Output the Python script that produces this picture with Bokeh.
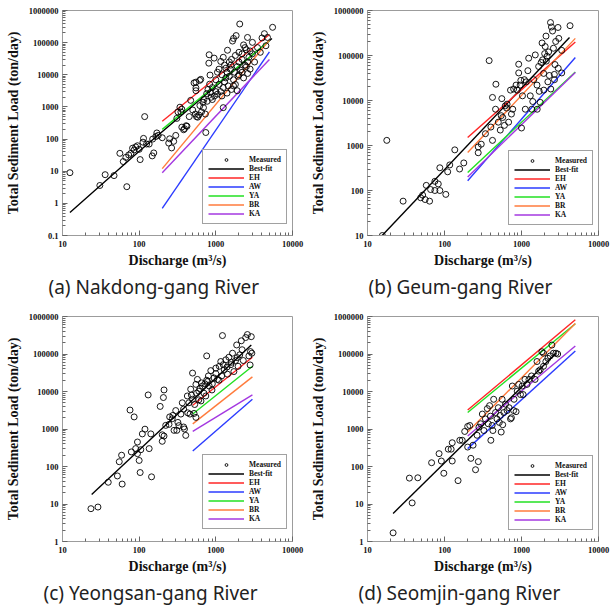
from bokeh.plotting import figure
from bokeh.layouts import column, row
from bokeh.models import (Legend, LegendItem, Title, FixedTicker, Range1d,
                          CustomJSTickFormatter)
from bokeh.embed import file_html
from bokeh.resources import INLINE

# ---------------- data ----------------
x_ticks = [10, 100, 1000, 10000]
model_names = ["EH", "AW", "YA", "BR", "KA"]
model_colors = ["#ff2626", "#2b3bff", "#22e022", "#ff7b3c", "#a438e0"]

# (a) Nakdong-gang River
nak_q = [12.5, 30.7, 36, 47, 56, 62, 69, 67, 73, 78, 82, 86, 90, 95, 100, 103, 114, 118, 112, 125,
         135, 148, 155, 150, 165, 170, 177, 200,
         243, 250, 265, 282, 300, 310, 320, 340, 350, 360, 360, 380, 410, 420, 390, 450, 470, 500,
         520, 540, 550, 550, 550, 560, 580, 600, 615, 620, 636, 650, 680, 690, 700, 730, 740, 770,
         790, 760,
         810, 818, 830, 840, 850, 870, 900, 900, 950, 960, 1000, 1000, 1050, 1050, 1100, 1100, 1150,
         1160, 1200, 1200, 1250, 1250, 1250, 1300, 1300, 1350, 1350, 1400, 1400, 1420, 1450, 1500,
         1500, 1550, 1570, 1600, 1600, 1650, 1700, 1700, 1700, 1750, 1800, 1800, 1840, 1900, 1900,
         1950, 2000, 2000, 2000, 2050, 2100, 2200, 2200, 2200, 2300, 2300, 2400, 2400, 2500, 2500,
         2590, 2600, 2600, 2700, 2800, 2800, 3000, 3000, 3200, 3500, 3800, 4000, 4300, 4500, 4720,
         5500]
nak_qs = [9, 3.6, 7.8, 7.3, 36, 20, 3.3, 27, 32, 36, 52, 46, 57, 62, 48, 23, 105, 500, 80, 70,
          70, 30, 37, 100, 120, 155, 130, 110,
          75, 102, 53, 85, 130, 440, 700, 980, 700, 850, 235, 195, 260, 250, 210, 500, 1600, 800,
          5600, 600, 5900, 3900, 3200, 500, 480, 560, 6700, 1100, 7200, 700, 1400, 950, 1700, 600,
          160, 1500, 3500, 2600,
          23000, 42000, 5100, 9800, 2800, 2000, 4000, 1700, 33000, 2200, 3000, 7000, 2500, 12000,
          5000, 15000, 3000, 26000, 2200, 10000, 35000, 950, 4000, 6000, 20000, 8000, 16000, 12000,
          2700, 58000, 4500, 9000, 25000, 15000, 20000, 3500, 30000, 112000, 135000, 7000, 4500,
          12000, 5000, 40000, 166000, 18000, 3200, 9000, 25000, 50000, 10000, 380000, 14000, 30000,
          45000, 12000, 85000, 8000, 20000, 70000, 60000, 18000, 145000, 11000, 25000, 35000, 15000,
          55000, 102000, 45000, 25000, 70000, 50000, 140000, 190000, 80000, 145000, 300000]
nak_fit_q = [12.5, 100, 5400]
nak_fit_qs = [0.52, 42, 135000]
nak_model_q = [200, 5000]
nak_models = [[360, 180000], [0.7, 52000], [200, 115000], [12, 120000], [9, 30000]]

# (b) Geum-gang River
geum_q = [15.6, 17.8, 29, 49, 52, 56, 58, 64, 66, 75, 75, 83, 87, 87, 104, 110, 117, 136, 157, 178,
          274, 274, 300, 340, 380, 400, 420, 420, 460, 465, 500, 530, 545, 555, 600, 615, 650, 680,
          740, 770, 790, 850, 920, 920, 960, 1000, 1030, 1090, 1120, 1210, 1240, 1300, 1360, 1440,
          1510, 1590, 1600, 1670, 1750, 1850, 1880, 1940, 2000, 2030, 2080, 2150, 2200, 2300, 2380,
          2450, 2530, 2600, 2670, 2680, 2720, 2780, 2980, 3050, 3330, 3330, 4270,
          570, 640, 720, 880, 980, 1150, 1400, 1700, 1800, 2100, 2250, 1950, 2400, 3000]
geum_qs = [10, 1300, 58, 69, 79, 63, 130, 58, 105, 160, 100, 140, 100, 320, 82, 260, 370, 800, 300,
           410, 690, 930, 1070, 1830, 77000, 2570, 11700, 1300, 6400, 23000, 3300, 2200, 4600, 11000,
           2800, 7600, 8300, 3300, 5000, 6400, 18000, 22000, 41000, 64000, 22000, 2450, 12700, 29000,
           6400, 46000, 87000, 12700, 6400, 29000, 103000, 22000, 6400, 57000, 9100, 190000, 80000,
           40000, 110000, 158000, 270000, 96000, 26000, 36000, 540000, 430000, 350000, 145000, 38000,
           29000, 63000, 205000, 420000, 240000, 130000, 41000, 460000,
           4200, 6800, 17000, 17000, 28000, 26000, 9500, 16000, 70000, 75000, 120000, 17000, 18000,
           52000]
geum_fit_q = [15.5, 4200]
geum_fit_qs = [10, 250000]
geum_model_q = [200, 5000]
geum_models = [[1500, 200000], [165, 90000], [250, 43000], [700, 240000], [200, 42000]]

# (c) Yeongsan-gang River
yeong_q = [23.5, 29, 39.5, 52, 55, 59, 60, 76, 79, 86, 90, 95, 95, 100, 103, 105, 110, 119, 131, 135,
           142, 145, 188, 200, 200, 207, 211, 211, 222, 245, 270, 275, 285, 300, 310, 330, 350, 365,
           380, 380, 390, 405, 425, 445, 460, 470, 497, 497, 520, 550, 550, 575, 600, 640, 670, 720,
           740, 760, 780, 820, 860, 890, 950, 1000, 1050, 1110, 1160, 1190, 1220, 1290, 1350, 1420,
           1480, 1570, 1650, 1720, 1810, 1870, 1950, 2050, 2150, 2280, 2450, 2580, 2700, 2830, 2900,
           2950, 2800,
           480, 530, 560, 620, 650, 700, 760, 800, 900, 1000, 1100, 1250, 1400, 1600, 1900, 2200,
           250, 320, 430, 600]
yeong_qs = [7.5, 8.3, 38, 56, 134, 200, 34, 3200, 245, 2100, 300, 450, 220, 145, 69, 280, 740, 990,
            8100, 300, 740, 53, 4000, 700, 470, 6900, 11000, 650, 1250, 1330, 1880, 2300, 920, 3100,
            920, 1230, 2500, 5000, 3400, 1130, 1000, 675, 7600, 5000, 2500, 11500, 31000, 6200, 2600,
            2040, 15500, 21000, 10200, 5600, 14000, 16000, 7600, 89000, 18500, 14000, 36000, 11000,
            23000, 30000, 21000, 47000, 63000, 26000, 310000, 38000, 70000, 29000, 82000, 52000,
            105000, 34000, 67000, 174000, 47000, 95000, 225000, 67000, 275000, 330000, 89000, 116000,
            290000, 105000, 51000,
            8000, 4500, 9000, 12000, 17000, 9000, 20000, 26000, 16000, 42000, 20000, 52000, 45000,
            60000, 80000, 130000,
            2100, 1500, 2700, 6000]
yeong_fit_q = [24, 2900]
yeong_fit_qs = [18, 173000]
yeong_model_q = [500, 3000]
yeong_models = [[4300, 82000], [260, 6200], [2500, 47000], [1370, 24500], [860, 8100]]

# (d) Seomjin-gang River
seom_q = [21.5, 35, 38, 45, 68, 85, 91, 98, 112, 122, 126, 126, 150, 158, 170, 183, 200, 213, 200, 220,
          235, 253, 275, 265, 280, 295, 310, 325, 340, 360, 370, 385, 395, 400, 415, 425, 435, 460,
          480, 500, 515, 530, 545, 560, 570, 590, 620, 650, 690, 720, 740, 760, 800, 790, 850, 880,
          920, 970, 1020, 1050, 1110, 1180, 1250, 1350, 1500, 1590, 1670, 1750, 1840, 1930, 1930,
          2070, 2200, 2360, 2480, 2600, 2800, 2950]
seom_qs = [1.7, 49, 10.7, 50, 126, 220, 140, 66, 290, 290, 430, 140, 42, 500, 500, 860, 1170, 1240,
           330, 165, 370, 82, 135, 680, 1120, 1380, 2500, 910, 1860, 3500, 1380, 4200, 2200, 500,
           1240, 910, 6200, 2750, 1860, 3700, 1500, 2300, 830, 6200, 1300, 2750, 4600, 3100, 3700,
           1860, 2000, 14000, 6200, 3100, 2900, 10200, 15500, 8300, 14000, 8300, 21000, 15500, 21000,
           26000, 21000, 63000, 35000, 38000, 115000, 105000, 47000, 63000, 77000, 89000, 173000,
           105000, 105000, 100000]
seom_fit_q = [21.5, 2800]
seom_fit_qs = [5.6, 104000]
seom_model_q = [200, 5000]
seom_models = [[3200, 820000], [300, 120000], [2750, 640000], [830, 650000], [650, 163000]]

# ---------------- styling helpers ----------------
SERIF = "Liberation Serif"


def decades(lo, hi):
    out = []
    e = lo
    while e <= hi:
        out.append(10.0 ** e if e >= 0 else float("1e%d" % e))
        e += 1
    return out


def minors(lo, hi):
    out = []
    for e in range(lo, hi):
        for k in range(2, 10):
            out.append(k * 10.0 ** e if e >= 0 else k / 10.0 ** (-e))
    return out


fmt_code = "return tick >= 1 ? Math.round(tick).toString() : String(tick);"


def make_panel(caption, q, qs, fit_q, fit_qs, mq, models, ylo_exp, width, height,
               top, right, bottom, cap_offset, leg_x, leg_y):
    p = figure(width=width, height=height, x_axis_type="log", y_axis_type="log",
               x_range=Range1d(10, 10000), y_range=Range1d(10.0 ** ylo_exp if ylo_exp >= 0 else 0.1, 1e6),
               output_backend="svg", toolbar_location=None, title_location=None,
               min_border_left=62, min_border_right=right, min_border_top=top,
               min_border_bottom=bottom)
    p.background_fill_color = "white"
    p.border_fill_color = "white"
    p.outline_line_color = "#9c9c9c"
    p.outline_line_width = 1
    p.xgrid.visible = False
    p.ygrid.visible = False

    p.xaxis.ticker = FixedTicker(ticks=x_ticks, minor_ticks=minors(1, 4))
    p.yaxis.ticker = FixedTicker(ticks=decades(ylo_exp, 6), minor_ticks=minors(ylo_exp, 6))
    for ax in (p.xaxis[0], p.yaxis[0]):
        ax.formatter = CustomJSTickFormatter(code=fmt_code)
        ax.axis_line_color = "#9c9c9c"
        ax.major_tick_line_color = "#666666"
        ax.minor_tick_line_color = "#666666"
        ax.major_tick_in = 5
        ax.major_tick_out = 0
        ax.minor_tick_in = 3
        ax.minor_tick_out = 0
        ax.major_label_text_font = SERIF
        ax.major_label_text_font_style = "bold"
        ax.major_label_text_font_size = "8.5px"
        ax.major_label_text_color = "#111111"
        ax.axis_label_text_font = SERIF
        ax.axis_label_text_font_style = "bold"
        ax.axis_label_text_font_size = "14px"
        ax.axis_label_text_color = "#111111"
    p.xaxis.axis_label = "Discharge (m\u00b3/s)"
    p.yaxis.axis_label = "Total Sediment Load (ton/day)"
    p.xaxis.major_label_standoff = 5
    p.yaxis.major_label_standoff = 4
    p.xaxis.axis_label_standoff = 3
    p.yaxis.axis_label_standoff = 5

    fit_r = p.line(fit_q, fit_qs, line_color="black", line_width=1.4)
    model_rs = []
    for vals, col in zip(models, model_colors):
        model_rs.append(p.line(mq, vals, line_color=col, line_width=1.4))
    sc = p.scatter(q, qs, marker="circle", size=6, fill_color=None,
                   line_color="black", line_width=0.9)

    items = [LegendItem(label="Measured", renderers=[sc]),
             LegendItem(label="Best-fit", renderers=[fit_r])]
    for name, r in zip(model_names, model_rs):
        items.append(LegendItem(label=name, renderers=[r]))
    leg = Legend(items=items, location=(leg_x, leg_y), orientation="vertical",
                 label_text_font=SERIF, label_text_font_style="bold",
                 label_text_font_size="7.5px", label_text_color="#111111",
                 label_text_line_height=0.9,
                 label_height=7, glyph_height=7, glyph_width=36, label_standoff=5,
                 spacing=0, padding=5, margin=0,
                 border_line_color="#444444", border_line_width=1,
                 background_fill_color="white", background_fill_alpha=1.0)
    p.add_layout(leg)

    cap = Title(text=caption, align="left", offset=cap_offset,
                text_font="Noto Sans", text_font_size="19px",
                text_font_style="normal", text_color="#222222", standoff=2)
    p.add_layout(cap, "below")
    return p


pa = make_panel("(a) Nakdong-gang River", nak_q, nak_qs, nak_fit_q, nak_fit_qs,
                nak_model_q, nak_models, -1, 305, 300, 10, 13, 62, -14, 140, 11)
pb = make_panel("(b) Geum-gang River", geum_q, geum_qs, geum_fit_q, geum_fit_qs,
                geum_model_q, geum_models, 1, 310, 300, 10, 17, 62, 1, 141, 10)
pc = make_panel("(c) Yeongsan-gang River", yeong_q, yeong_qs, yeong_fit_q, yeong_fit_qs,
                yeong_model_q, yeong_models, 0, 305, 306, 16, 13, 62, -19, 140, 12)
pd = make_panel("(d) Seomjin-gang River", seom_q, seom_qs, seom_fit_q, seom_fit_qs,
                seom_model_q, seom_models, 0, 310, 306, 16, 17, 62, -9, 141, 11)

layout = column(row(pa, pb), row(pc, pd))
open("out.html", "w").write(file_html(layout, INLINE))
